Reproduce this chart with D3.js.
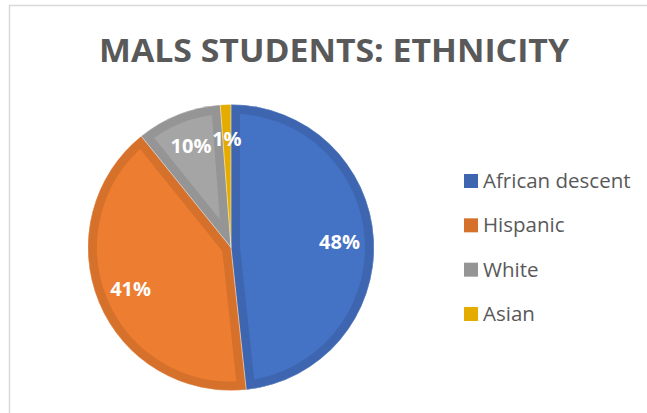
<!DOCTYPE html>
<html>
<head>
<meta charset="utf-8">
<script src="https://cdn.jsdelivr.net/npm/d3@7/dist/d3.min.js"></script>
<style>
  html, body { margin: 0; padding: 0; background: #fff; }
  svg { display: block; }
</style>
</head>
<body>
<svg id="chart" width="647" height="413"></svg>
<script>
const title = "MALS STUDENTS: ETHNICITY";
const categories = ["African descent", "Hispanic", "White", "Asian"];
const values = [48.3, 40.9, 9.6, 1.2];
const labels = ["48%", "41%", "10%", "1%"];
const fillColors = ["#4472C4", "#ED7D31", "#A5A5A5", "#FFC000"];
const borderColors = ["#3E66B0", "#D6712C", "#959595", "#E5AC00"];

const svg = d3.select("#chart");
const W = 647, H = 413;
const font = "'Open Sans', 'Noto Sans', 'DejaVu Sans', sans-serif";

// chart area border (left and top visible)
svg.append("path")
  .attr("d", `M9.5,${H} L9.5,5.5 L${W},5.5`)
  .attr("fill", "none")
  .attr("stroke", "#D9D9D9")
  .attr("stroke-width", 1.5);

// title
svg.append("text")
  .attr("x", 334).attr("y", 62)
  .attr("text-anchor", "middle")
  .attr("font-family", font)
  .attr("font-weight", 700)
  .attr("font-size", 33)
  .attr("fill", "#595959")
  .attr("textLength", 470)
  .attr("lengthAdjust", "spacingAndGlyphs")
  .text(title);

// pie
const cx = 231, cy = 247.5, r = 143;
const band = 9;
const g = svg.append("g").attr("transform", `translate(${cx},${cy})`);
const pie = d3.pie().sort(null).value(d => d)(values);
const arc = d3.arc().innerRadius(0).outerRadius(r);
const defs = svg.append("defs");

pie.forEach((p, i) => {
  defs.append("clipPath").attr("id", "clip" + i)
    .append("path").attr("d", arc(p));
});

const slices = g.selectAll("g.slice").data(pie).join("g").attr("class", "slice");
slices.append("path")
  .attr("d", arc)
  .attr("fill", (d, i) => fillColors[i]);
slices.append("path")
  .attr("d", arc)
  .attr("fill", "none")
  .attr("stroke", (d, i) => borderColors[i])
  .attr("stroke-width", band * 2)
  .attr("stroke-linejoin", "miter")
  .attr("stroke-miterlimit", 20)
  .attr("clip-path", (d, i) => `url(#clip${i})`);

// thin separators
g.selectAll("path.sep").data(pie).join("path")
  .attr("class", "sep")
  .attr("d", arc)
  .attr("fill", "none")
  .attr("stroke", "#ffffff")
  .attr("stroke-opacity", 0.35)
  .attr("stroke-width", 0.8);

// labels
const labelArc = d3.arc().innerRadius(r * 0.76).outerRadius(r * 0.76);
g.selectAll("text.lbl").data(pie).join("text")
  .attr("class", "lbl")
  .attr("transform", d => { const c = labelArc.centroid(d); return `translate(${c[0]},${c[1] + 7})`; })
  .attr("text-anchor", "middle")
  .attr("font-family", font)
  .attr("font-weight", 700)
  .attr("font-size", 20)
  .attr("fill", "#ffffff")
  .text((d, i) => labels[i]);

// legend
const legendY = d3.scalePoint().domain(categories).range([181, 314]);
const lg = svg.append("g");
categories.forEach((c, i) => {
  const y = legendY(c);
  lg.append("rect")
    .attr("x", 464).attr("y", y - 7)
    .attr("width", 14).attr("height", 14)
    .attr("fill", borderColors[i]);
  lg.append("text")
    .attr("x", 483).attr("y", y + 7)
    .attr("font-family", font)
    .attr("font-size", 20.5)
    .attr("fill", "#595959")
    .text(c);
});
</script>
</body>
</html>
